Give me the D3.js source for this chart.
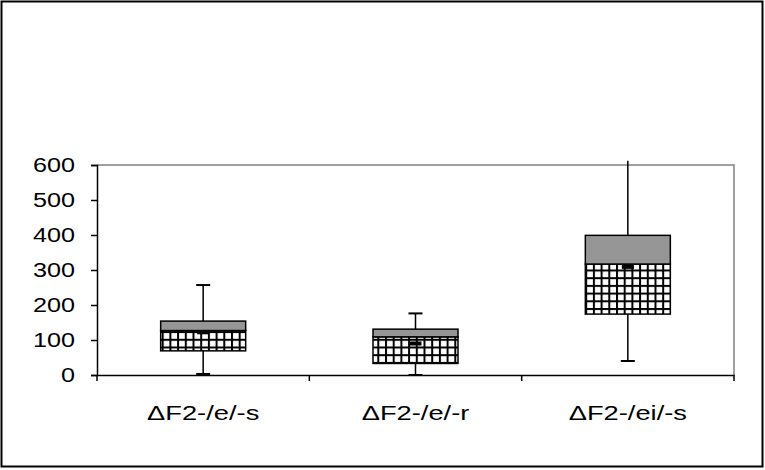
<!DOCTYPE html>
<html>
<head>
<meta charset="utf-8">
<script src="https://cdn.jsdelivr.net/npm/d3@7"></script>
<style>
  html, body { margin: 0; padding: 0; background: #fff; }
  svg { display: block; }
  text { font-family: "Liberation Sans", Arial, sans-serif; fill: #000; }
</style>
</head>
<body>
<svg id="chart" width="765" height="470"></svg>
<script>
// Box-plot style stacked bars: hatched lower half, grey upper half, mean dash, whiskers
const categories  = ["ΔF2-/e/-s", "ΔF2-/e/-r", "ΔF2-/ei/-s"];
const whiskerLow  = [3, 0, 40];
const lowerQuart  = [69, 33, 174];
const middle      = [127, 109, 317];
const upperQuart  = [154, 131, 399];
const whiskerHigh = [257, 176, 612];
const meanMark    = [122, 90, 309];
const yTicks      = [0, 100, 200, 300, 400, 500, 600];

const svg = d3.select("#chart");
const W = 765, H = 470;
const plot = { left: 97, right: 734, top: 165, bottom: 375 };

// outer frame
svg.append("rect").attr("x", 1.5).attr("y", 1.5).attr("width", W - 4).attr("height", H - 5)
  .attr("fill", "#fff").attr("stroke", "#000").attr("stroke-width", 2);

// grid hatch pattern
const defs = svg.append("defs");
const cell = 7.7;
const pat = defs.append("pattern").attr("id", "grid").attr("patternUnits", "userSpaceOnUse")
  .attr("width", cell).attr("height", cell);
pat.append("rect").attr("width", cell).attr("height", cell).attr("fill", "#fff");
pat.append("rect").attr("x", 0).attr("y", 0).attr("width", 2).attr("height", cell).attr("fill", "#000");
pat.append("rect").attr("x", 0).attr("y", 0).attr("width", cell).attr("height", 2).attr("fill", "#000");

const x = d3.scaleBand().domain(categories).range([plot.left, plot.right]).paddingInner(0).paddingOuter(0);
const y = d3.scaleLinear().domain([0, 600]).range([plot.bottom, plot.top]);
const boxW = 85, capW = 14, meanW = 12;

// plot area border (grey top and right)
svg.append("path")
  .attr("d", `M${plot.left},${plot.top}H${plot.right}V${plot.bottom}`)
  .attr("fill", "none").attr("stroke", "#808080").attr("stroke-width", 1.5);

const g = svg.append("g");
categories.forEach((c, i) => {
  const cx = x(c) + x.bandwidth() / 2;
  // whisker line
  g.append("line").attr("x1", cx).attr("x2", cx)
    .attr("y1", y(whiskerLow[i])).attr("y2", y(whiskerHigh[i]))
    .attr("stroke", "#000").attr("stroke-width", 1.5);
  [whiskerLow[i], whiskerHigh[i]].forEach(v => {
    if (v <= y.domain()[1]) {
      g.append("line").attr("x1", cx - capW / 2).attr("x2", cx + capW / 2)
        .attr("y1", y(v)).attr("y2", y(v)).attr("stroke", "#000").attr("stroke-width", 2);
    }
  });
  // hatched lower section
  g.append("rect").attr("x", cx - boxW / 2).attr("width", boxW)
    .attr("y", y(middle[i])).attr("height", y(lowerQuart[i]) - y(middle[i]))
    .attr("fill", "url(#grid)").attr("stroke", "#000").attr("stroke-width", 1.5);
  // grey upper section
  g.append("rect").attr("x", cx - boxW / 2).attr("width", boxW)
    .attr("y", y(upperQuart[i])).attr("height", y(middle[i]) - y(upperQuart[i]))
    .attr("fill", "#969696").attr("stroke", "#000").attr("stroke-width", 1.5);
  // mean dash
  g.append("rect").attr("x", cx - meanW / 2).attr("width", meanW)
    .attr("y", y(meanMark[i]) - 2).attr("height", 4).attr("fill", "#000");
});

// axes
const yAxis = d3.axisLeft(y).tickValues(yTicks).tickSize(6).tickPadding(22);
const ya = svg.append("g").attr("transform", `translate(${plot.left},0)`).call(yAxis);
ya.select(".domain").attr("stroke", "#000").attr("stroke-width", 1.5);
ya.selectAll(".tick line").attr("stroke", "#000").attr("stroke-width", 1.5);
ya.selectAll(".tick text").attr("font-size", 21).attr("fill", "#000")
  .attr("font-family", "Liberation Sans, Arial, sans-serif")
  .attr("text-anchor", "end")
  .each(function () {
    const t = d3.select(this);
    t.attr("x", null).attr("transform", "translate(-22,0) scale(1.2,1)");
  });

const xAxis = d3.axisBottom(x).tickSize(0).tickFormat("");
const xa = svg.append("g").attr("transform", `translate(0,${plot.bottom})`).call(xAxis);
xa.select(".domain").attr("stroke", "#000").attr("stroke-width", 1.5);
// category boundary ticks
const bounds = categories.map(c => x(c)).concat([x.range()[1]]);
xa.selectAll(".bound").data(bounds).enter().append("line")
  .attr("x1", d => d).attr("x2", d => d).attr("y1", 0).attr("y2", 6)
  .attr("stroke", "#000").attr("stroke-width", 1.5);
xa.selectAll(".cat").data(categories).enter().append("text")
  .attr("text-anchor", "middle").attr("font-size", 21)
  .attr("transform", d => `translate(${x(d) + x.bandwidth() / 2},45) scale(1.3,1)`)
  .text(d => d);
</script>
</body>
</html>
